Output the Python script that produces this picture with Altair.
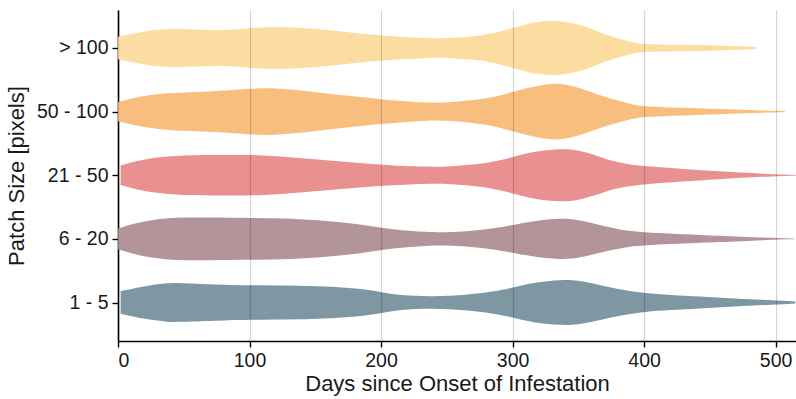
import altair as alt
import pandas as pd

# Patch-size classes, top to bottom as drawn
categories = ["> 100", "50 - 100", "21 - 50", "6 - 20", "1 - 5"]
colors = ["#FCDDA1", "#F8BE7D", "#E99191", "#B39499", "#7E97A2"]

# Kernel-density half-widths (relative units) along days since onset, per class
gt100_days = [0, 19, 34, 57, 82, 100, 120, 146, 171, 201, 235, 252, 277, 290, 300, 313,
              328, 340, 353, 366, 379, 394, 400, 430, 455, 480, 485]
gt100_dens = [11.3, 16.3, 19.3, 18.7, 17.3, 19.7, 21.7, 19.7, 16.3, 12.3, 9.7, 9.7, 12.3,
              16.3, 19.7, 25.0, 27.5, 26.5, 23.0, 15.7, 9.7, 5.0, 3.7, 3.3, 2.7, 1.3, 1.3]

s50_days = [0, 19, 39, 70, 100, 118, 146, 171, 201, 235, 252, 277, 290, 300, 313, 328,
            340, 353, 366, 379, 394, 400, 430, 455, 493, 507]
s50_dens = [9.7, 15.7, 19.0, 19.7, 23.0, 23.7, 20.3, 16.3, 12.0, 8.7, 9.0, 12.3, 15.7,
            19.7, 24.0, 28.3, 27.5, 23.0, 16.3, 11.3, 6.3, 5.3, 3.7, 2.7, 1.0, 0.7]

s21_days = [2, 19, 44, 70, 100, 115, 146, 171, 201, 235, 252, 277, 290, 300, 316, 333,
            345, 353, 364, 374, 387, 400, 430, 455, 493, 516]
s21_dens = [9.7, 16.3, 19.7, 20.3, 20.3, 19.7, 16.3, 13.7, 10.3, 8.3, 8.7, 11.3, 14.7,
            18.0, 23.7, 26.3, 26.0, 23.7, 19.7, 14.7, 11.0, 9.0, 6.3, 4.0, 1.3, 0.3]

s6_days = [0, 19, 44, 70, 100, 133, 158, 184, 209, 235, 252, 277, 300, 316, 333, 345,
           353, 364, 374, 387, 400, 430, 455, 493, 514]
s6_dens = [10.3, 18.0, 21.7, 21.3, 21.0, 20.3, 18.0, 14.7, 9.0, 6.7, 6.3, 8.7, 13.7,
           18.0, 20.3, 20.0, 18.0, 14.7, 11.3, 8.0, 6.3, 4.7, 3.3, 1.0, 0.3]

s1_days = [2, 20, 37, 44, 75, 100, 138, 176, 200, 214, 239, 265, 285, 300, 315, 338,
           350, 361, 374, 387, 400, 420, 442, 468, 500, 515]
s1_dens = [11.3, 16.5, 19.3, 19.7, 18.0, 17.0, 17.0, 15.0, 10.8, 7.0, 5.8, 7.5, 10.8,
           14.7, 20.0, 23.0, 22.0, 19.3, 15.0, 11.8, 9.3, 7.5, 6.0, 4.0, 2.0, 1.0]

series = {
    "> 100": (gt100_days, gt100_dens),
    "50 - 100": (s50_days, s50_dens),
    "21 - 50": (s21_days, s21_dens),
    "6 - 20": (s6_days, s6_dens),
    "1 - 5": (s1_days, s1_dens),
}

# vertical slot of each class (0 = bottom) and density-to-slot scaling
slot = {c: len(categories) - 1 - i for i, c in enumerate(categories)}
DENS_PER_SLOT = 63.6

rows = []
for cat, (days, dens) in series.items():
    for d, w in zip(days, dens):
        half = w / DENS_PER_SLOT
        rows.append({"cls": cat, "days": d,
                     "hi": slot[cat] + half, "lo": slot[cat] - half})
df = pd.DataFrame(rows)

label_expr = "['1 - 5','6 - 20','21 - 50','50 - 100','> 100'][datum.value]"

chart = alt.Chart(df).mark_area(interpolate="basis", clip=True, opacity=1).encode(
    x=alt.X("days:Q",
            scale=alt.Scale(domain=[0, 515.5], nice=False, zero=False),
            axis=alt.Axis(values=[0, 100, 200, 300, 400, 500], title="Days since Onset of Infestation",
                          grid=True, gridColor="#000000", gridOpacity=0.17, gridWidth=1.2,
                          zindex=1, titlePadding=4, labelPadding=4)),
    y=alt.Y("hi:Q",
            scale=alt.Scale(domain=[-0.605, 4.597], nice=False, zero=False),
            axis=alt.Axis(values=[0, 1, 2, 3, 4], labelExpr=label_expr, grid=False,
                          title="Patch Size [pixels]", titlePadding=8, labelPadding=4)),
    y2="lo:Q",
    color=alt.Color("cls:N", scale=alt.Scale(domain=categories, range=colors), legend=None),
).properties(
    width=678,
    height=331,
    autosize=alt.AutoSizeParams(type="none"),
    padding={"left": 118, "top": 10, "right": 0, "bottom": 58},
).configure_view(
    stroke=None
).configure_axis(
    domainColor="#000000",
    domainWidth=1.6,
    tickColor="#000000",
    tickWidth=1.4,
    tickSize=6,
    labelFont="Liberation Sans",
    titleFont="Liberation Sans",
    labelFontSize=19.5,
    labelColor="#1a1a1a",
    titleFontSize=22,
    titleFontWeight="normal",
    titleColor="#1a1a1a",
)

chart.save("out.html", embed_options={"renderer": "svg", "actions": False})
